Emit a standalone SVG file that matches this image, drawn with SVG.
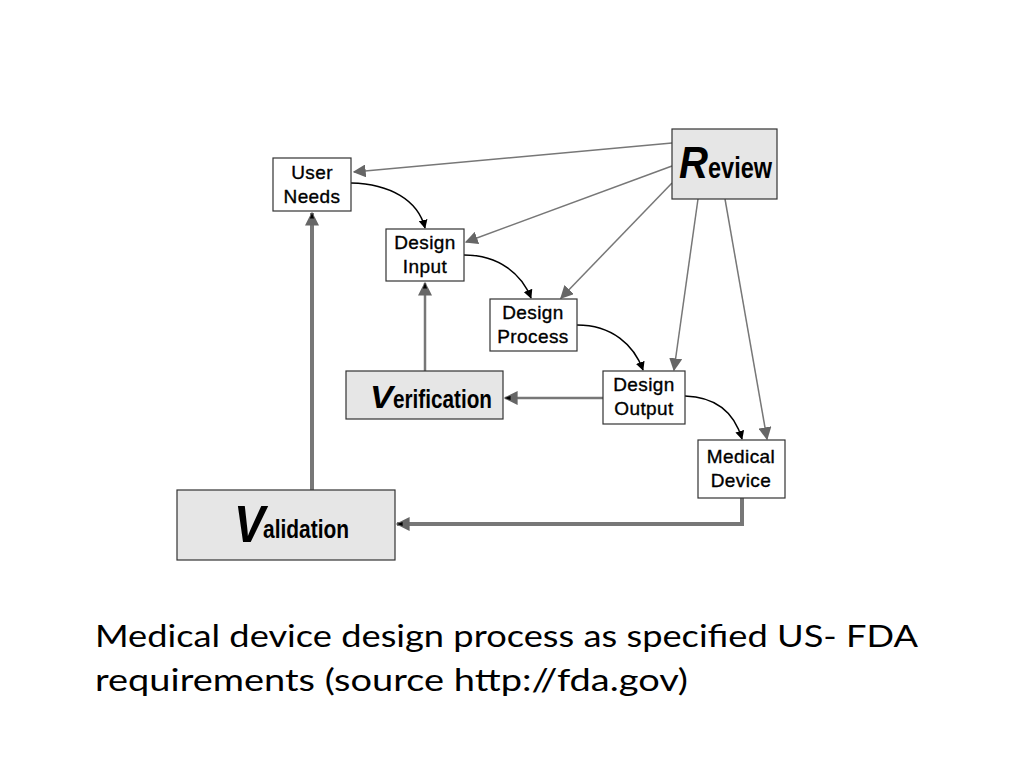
<svg xmlns="http://www.w3.org/2000/svg" width="1024" height="768" viewBox="0 0 1024 768">
<style>
.box{fill:#fff;stroke:#333;stroke-width:1.2}
.gbox{fill:#e6e6e6;stroke:#333;stroke-width:1.2}
.lbl{font-family:"Liberation Sans",Arial,sans-serif;font-size:19px;letter-spacing:0.4px;fill:#000;stroke:#000;stroke-width:0.35;text-anchor:middle}
.big{font-family:"Liberation Sans",Arial,sans-serif;font-weight:bold;font-style:italic;fill:#000}
.rest{font-family:"Liberation Sans",Arial,sans-serif;font-weight:bold;fill:#000}
.thin{fill:none;stroke:#777;stroke-width:1.5}
.blk{fill:none;stroke:#000;stroke-width:1.5}
.mid{fill:none;stroke:#777;stroke-width:2.5}
.thick{fill:none;stroke:#777;stroke-width:4}
.cap{font-family:Lato,"Open Sans",sans-serif;font-size:31px;fill:#000}
</style>
<defs>
<marker id="ag2" viewBox="0 0 10 10" refX="9" refY="5" markerWidth="13" markerHeight="13" markerUnits="userSpaceOnUse" orient="auto">
<path d="M0,0 L10,5 L0,10 z" fill="#666"/>
</marker>
<marker id="ab" viewBox="0 0 10 10" refX="9" refY="5" markerWidth="9" markerHeight="9" markerUnits="userSpaceOnUse" orient="auto">
<path d="M0,0 L10,5 L0,10 z" fill="#000"/>
</marker>
<marker id="ak" viewBox="0 0 10 10" refX="9" refY="5" markerWidth="14" markerHeight="14" markerUnits="userSpaceOnUse" orient="auto">
<path d="M0,0 L10,5 L0,10 z" fill="#666"/>
<path d="M5,3.5 L9,5 L5,6.5 z" fill="#000"/>
</marker>
</defs>
<g id="connectors">
<line class="thin" x1="672" y1="143" x2="354" y2="172" marker-end="url(#ag2)"/>
<line class="thin" x1="672" y1="166" x2="466" y2="242" marker-end="url(#ag2)"/>
<line class="thin" x1="672" y1="183" x2="561" y2="298" marker-end="url(#ag2)"/>
<line class="thin" x1="698" y1="199" x2="674" y2="370" marker-end="url(#ag2)"/>
<line class="thin" x1="725" y1="199" x2="767" y2="439" marker-end="url(#ag2)"/>
<path class="blk" d="M351,183 C390,184 418,200 425,228" marker-end="url(#ab)"/>
<path class="blk" d="M464,255 C500,255 522,275 531,298" marker-end="url(#ab)"/>
<path class="blk" d="M577,325 C612,325 634,345 643,370" marker-end="url(#ab)"/>
<path class="blk" d="M685,396 C718,397 735,415 742,439" marker-end="url(#ab)"/>
<line class="mid" x1="425" y1="371" x2="425" y2="283" marker-end="url(#ak)"/>
<line class="mid" x1="603" y1="398" x2="505" y2="398" marker-end="url(#ak)"/>
<polyline class="thick" points="742,498 742,524 397,524" marker-end="url(#ak)"/>
<line class="thick" x1="312" y1="490" x2="312" y2="213" marker-end="url(#ak)"/>
</g>
<g id="user-needs"><rect class="box" x="273" y="158" width="78" height="53"/><text class="lbl" x="312" y="179">User</text><text class="lbl" x="312" y="203">Needs</text></g>
<g id="design-input"><rect class="box" x="386" y="229" width="78" height="52"/><text class="lbl" x="425" y="249">Design</text><text class="lbl" x="425" y="273">Input</text></g>
<g id="design-process"><rect class="box" x="490" y="299" width="87" height="52"/><text class="lbl" x="533" y="319">Design</text><text class="lbl" x="533" y="343">Process</text></g>
<g id="design-output"><rect class="box" x="603" y="371" width="82" height="53"/><text class="lbl" x="644" y="391">Design</text><text class="lbl" x="644" y="415">Output</text></g>
<g id="medical-device"><rect class="box" x="698" y="440" width="87" height="58"/><text class="lbl" x="741" y="463">Medical</text><text class="lbl" x="741" y="487">Device</text></g>
<g id="review"><rect class="gbox" x="672" y="129" width="105" height="70"/><text class="big" x="679" y="178" font-size="44" textLength="29" lengthAdjust="spacingAndGlyphs">R</text><text class="rest" x="708" y="178" font-size="29" textLength="64" lengthAdjust="spacingAndGlyphs">eview</text></g>
<g id="verification"><rect class="gbox" x="346" y="371" width="157" height="48"/><text class="big" x="370" y="408" font-size="32" textLength="23" lengthAdjust="spacingAndGlyphs">V</text><text class="rest" x="393" y="408" font-size="25" textLength="99" lengthAdjust="spacingAndGlyphs">erification</text></g>
<g id="validation"><rect class="gbox" x="177" y="490" width="218" height="70"/><text class="big" x="234" y="542" font-size="52" textLength="31" lengthAdjust="spacingAndGlyphs">V</text><text class="rest" x="263" y="538" font-size="26" textLength="86" lengthAdjust="spacingAndGlyphs">alidation</text></g>
<text class="cap" x="95" y="647" textLength="823" lengthAdjust="spacingAndGlyphs">Medical device design process as specified US- FDA</text>
<text class="cap" x="95" y="691" textLength="593" lengthAdjust="spacingAndGlyphs">requirements (source http://fda.gov)</text>
</svg>
